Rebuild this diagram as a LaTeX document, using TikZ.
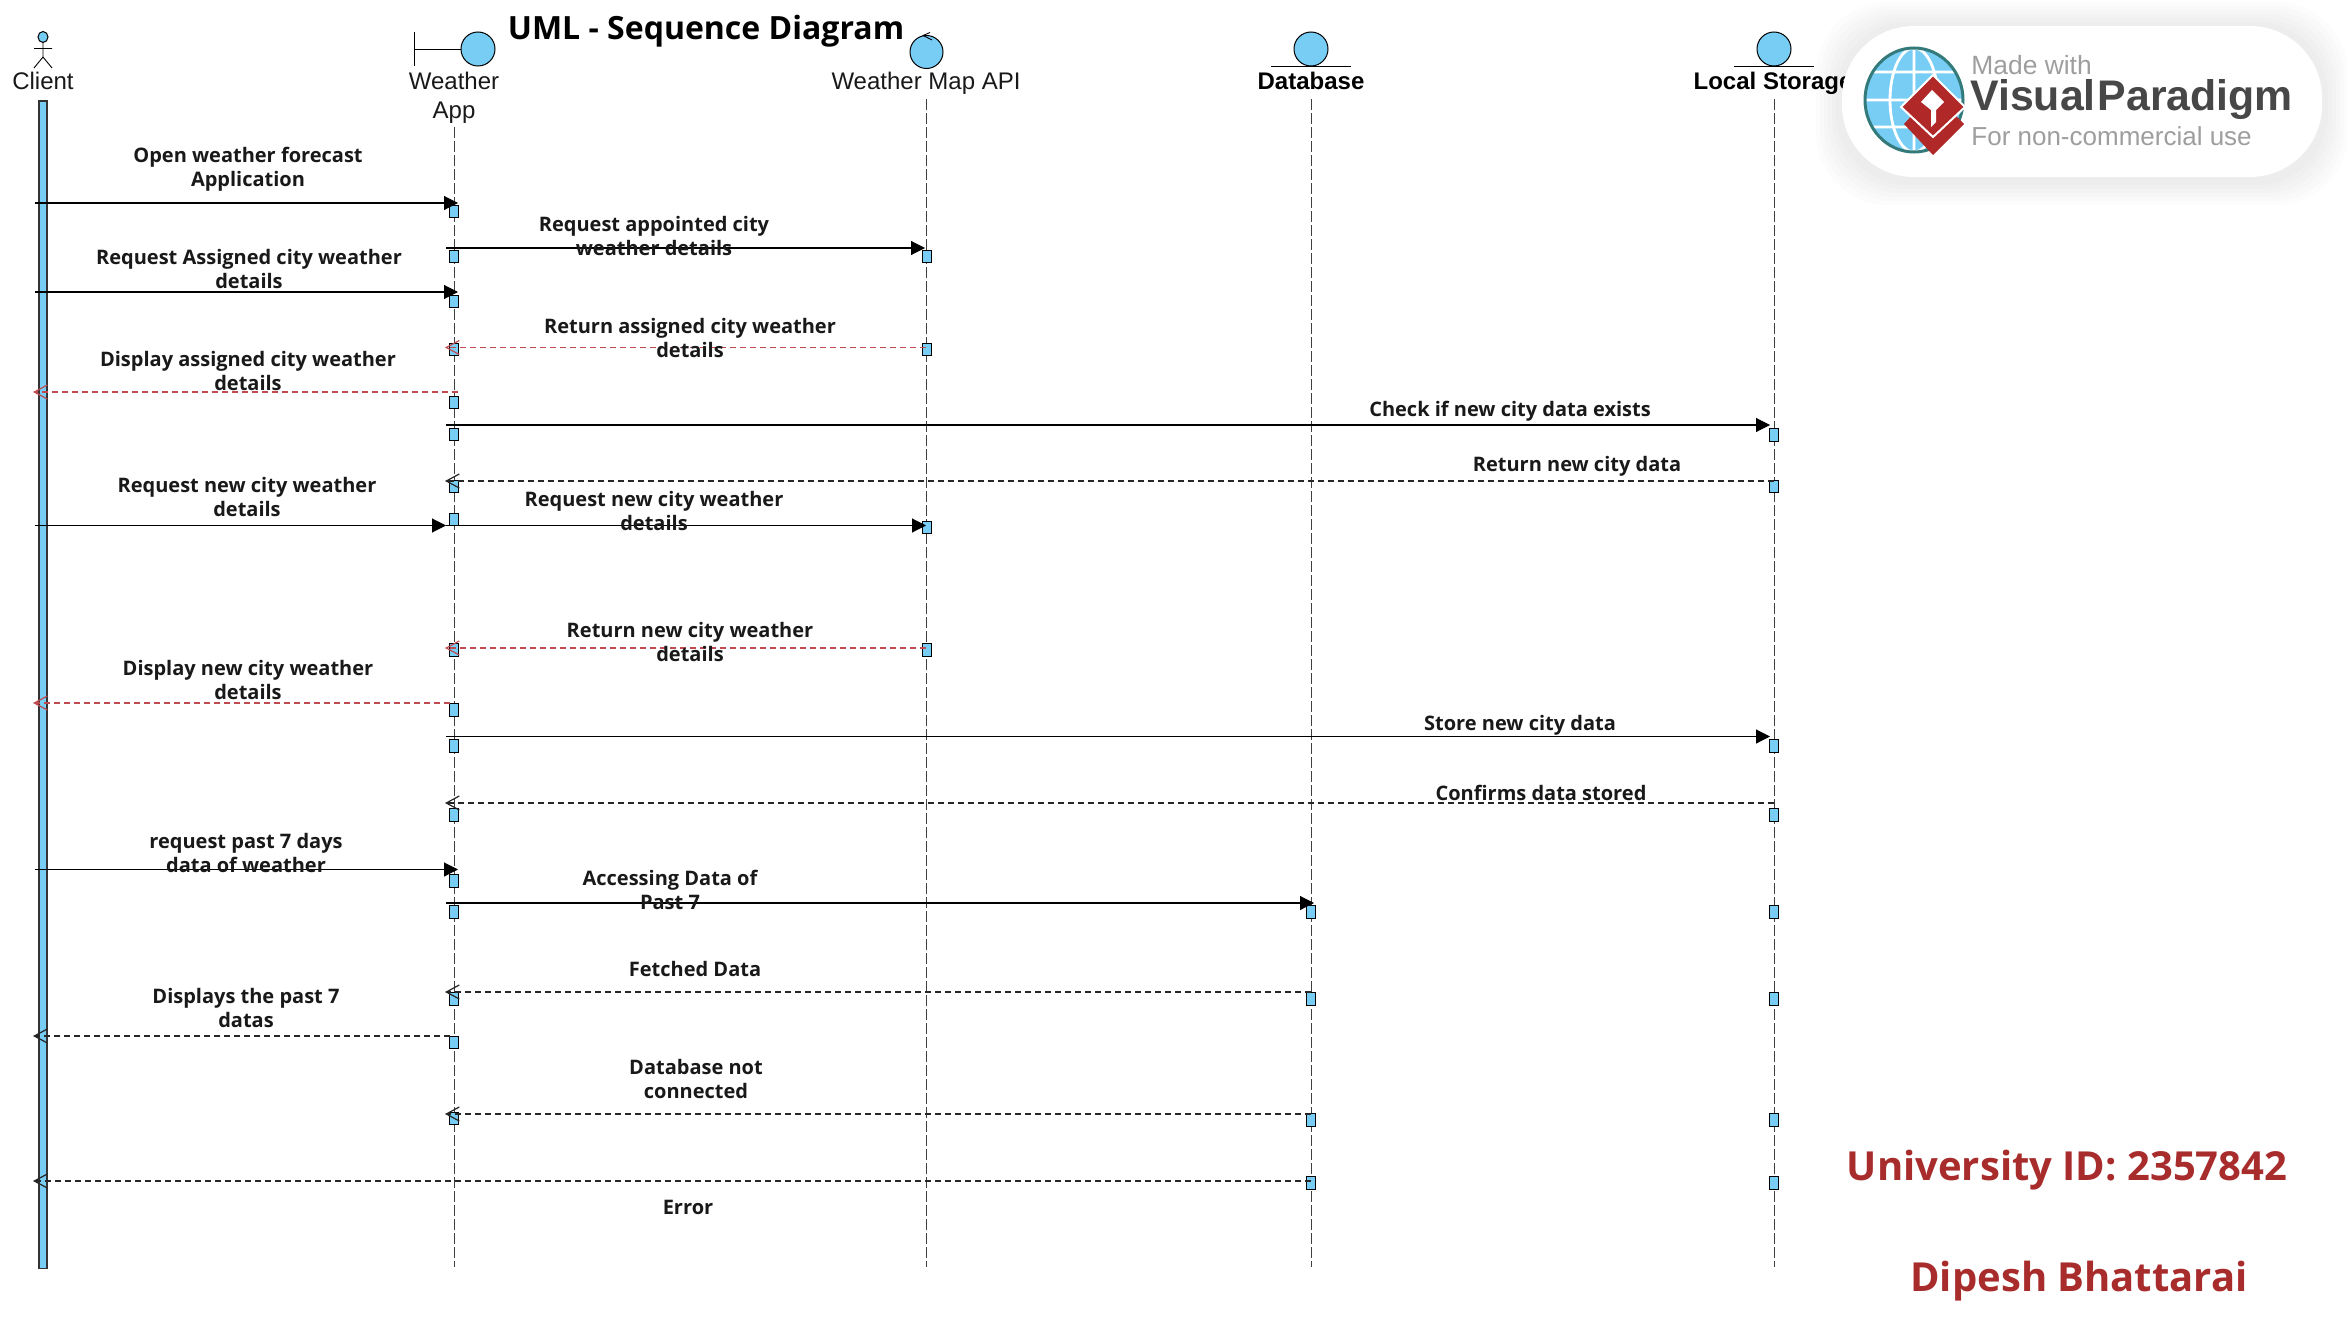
\documentclass[tikz,border=0pt]{standalone}
\usepackage{fontspec}
\setmainfont{Liberation Sans}
\newfontfamily\opensans{Open Sans}
\usetikzlibrary{arrows.meta}
\definecolor{lifefill}{HTML}{78CDF5}
\definecolor{redmsg}{HTML}{C04A50}
\definecolor{idred}{HTML}{A82C2C}
\tikzset{
  px/.style={x=0.5pt,y=-0.5pt},
  lifeline/.style={draw=black!75,line width=0.45pt,dash pattern=on 5.5pt off 1.5pt},
  acti/.style={draw=black,fill=lifefill,line width=0.5pt,minimum width=4.5pt,minimum height=6.2pt,inner sep=0pt,outer sep=0pt},
  glyph/.style={draw=black,fill=lifefill,line width=0.5pt},
  stick/.style={draw=black,line width=0.45pt},
  syncmsg/.style={draw=black,line width=0.55pt,-{Triangle[length=7pt,width=7pt]}},
  retmsg/.style={draw=black!85,line width=0.6pt,dash pattern=on 2.8pt off 2.2pt,-{Straight Barb[length=6.5pt,width=7pt,line width=0.6pt]}},
  redret/.style={draw=redmsg,line width=0.6pt,dash pattern=on 2.8pt off 2.2pt,-{Straight Barb[length=6.5pt,width=7pt,line width=0.6pt]}},
  msglabel/.style={font=\opensans\bfseries\fontsize{10}{12}\selectfont,align=center,inner sep=0pt,text=black!90},
  headlabel/.style={font=\fontsize{12}{14.4}\selectfont,align=center,inner sep=0pt,text=black!90},
  headbold/.style={font=\bfseries\fontsize{12}{14.4}\selectfont,align=center,inner sep=0pt},
  titletext/.style={font=\opensans\bfseries\fontsize{16}{20}\selectfont,inner sep=0pt},
  idtext/.style={font=\opensans\bfseries\fontsize{20}{24}\selectfont,inner sep=0pt,text=idred},
}
\begin{document}
\begin{tikzpicture}[px]
\useasboundingbox (0,0) rectangle (2346,1327);
\fill[white] (0,0) rectangle (2346,1327);

% lifelines
\coordinate (appT) at (454,127); \coordinate (appB) at (454,1267);
\coordinate (apiT) at (926.5,99); \coordinate (apiB) at (926.5,1267);
\coordinate (dbT) at (1311,99); \coordinate (dbB) at (1311,1267);
\coordinate (lsT) at (1774,99); \coordinate (lsB) at (1774,1267);
\draw[lifeline] (appT) -- (appB);
\draw[lifeline] (apiT) -- (apiB);
\draw[lifeline] (dbT) -- (dbB);
\draw[lifeline] (lsT) -- (lsB);
\node[draw=black!80,fill=lifefill,line width=0.7pt,minimum width=4pt,minimum height=583.5pt,inner sep=0pt,anchor=north] (clientbar) at (43,100.5) {};

% activations
\foreach \n/\x/\y in {
 a1/454/211.5,a2/454/256.5,a3/454/301.5,a4/454/349.5,a5/454/402.5,a6/454/434.5,a7/454/486.5,a8/454/519.5,
 a9/454/650,a10/454/710,a11/454/746,a12/454/815,a13/454/881,a14/454/912,a15/454/999,a16/454/1042.5,a17/454/1118.5,
 b1/926.5/256.5,b2/926.5/349.5,b3/926.5/527.5,b4/926.5/650,
 d1/1311/912,d2/1311/999,d3/1311/1120,d4/1311/1183,
 l1/1774/435,l2/1774/486.5,l3/1774/746,l4/1774/815,l5/1774/912,l6/1774/999,l7/1774/1120,l8/1774/1183}
 {\node[acti] (\n) at (\x,\y) {};}

% messages
\foreach \n/\xa/\xb/\y/\sty in {
 1/35/458/203/syncmsg,
 2/446/925/248/syncmsg,
 3/35/458/292/syncmsg,
 4/926/445/347.5/redret,
 5/458/33/392/redret,
 6/446/1770/425/syncmsg,
 7/1774/445/481/retmsg,
 8/35/446/525.5/syncmsg,
 9/446/926/525.5/syncmsg,
 10/926/445/648/redret,
 11/450/33/703/redret,
 12/446/1770/736.5/syncmsg,
 13/1774/445/803/retmsg,
 14/35/458/869.5/syncmsg,
 15/446/1314/903/syncmsg,
 16/1311/445/992/retmsg,
 17/450/33/1036/retmsg,
 18/1311/445/1114/retmsg,
 19/1311/33/1181/retmsg}
 {\coordinate (m\n s) at (\xa,\y); \coordinate (m\n e) at (\xb,\y);
  \draw[\sty] (m\n s) -- (m\n e);}

% client actor
\draw[glyph] (43,37) ellipse (5 and 5.5);
\draw[stick] (43,42.5) -- (43,57) (34,48.5) -- (52,48.5) (34,68) -- (43,57) -- (52,68);
% boundary
\draw[stick] (414.5,32) -- (414.5,66) (414.5,49) -- (461,49);
\draw[glyph] (478,49) ellipse (17 and 17);
% control
\draw[glyph] (926.5,52) ellipse (16.5 and 16.5);
\draw[stick] (930,32.5) -- (923,35.5) -- (932,40);
% entities
\draw[glyph] (1311,49) ellipse (17 and 17);
\draw[stick] (1271,66) -- (1351,66);
\draw[glyph] (1774,49) ellipse (17 and 17);
\draw[stick] (1734,66) -- (1814,66);

% heads
\node[headlabel] (hClient) at (43,81) {Client};
\node[headlabel] (hWeather) at (454,81) {Weather};
\node[headlabel] (hApp) at (454,113) {App};
\node[headlabel] (hApi) at (926,83) {Weather Map API};
\node[headbold] (hDb) at (1311,81) {Database};
\node[headbold] (hLs) at (1773,83) {Local Storage};
\node[titletext] (title) at (706,31) {UML - Sequence Diagram};

% message labels
\foreach \n/\x/\y/\t in {
 t1/248/169/{Open weather forecast\\Application},
 t2/654/236/{Request appointed city\\weather details},
 t3/249/269/{Request Assigned city weather\\details},
 t4/690/338/{Return assigned city weather\\details},
 t5/248/371/{Display assigned city weather\\details},
 t6/1510/411/{Check if new city data exists},
 t7/1577/466/{Return new city data},
 t8/247/497/{Request new city weather\\details},
 t9/654/511/{Request new city weather\\details},
 t10/690/642/{Return new city weather\\details},
 t11/248/680/{Display new city weather\\details},
 t12/1520/725/{Store new city data},
 t13/1541/793/{Confirms data stored},
 t14/246/853/{request past 7 days\\data of weather},
 t15/670/890/{Accessing Data of\\Past 7},
 t16/695/969/{Fetched Data},
 t17/246/1008/{Displays the past 7\\datas},
 t18/696/1079/{Database not\\connected},
 t19/688/1207/{Error}}
 {\node[msglabel] (\n) at (\x,\y) {\t};}

% footer
\node[idtext] (uid) at (2067,1170) {University ID: 2357842};
\node[idtext] (who) at (2079,1281) {Dipesh Bhattarai};

% watermark
\foreach \g in {26,22,18,14,10,6}
  \fill[black,opacity=0.012,rounded corners=36pt] (1842-\g,26-\g+2) rectangle (2322+\g,177+\g+2);
\fill[white,rounded corners=36pt] (1842,26) rectangle (2322,177);
\begin{scope}
 \clip (1914,100) ellipse (49 and 52);
 \fill[lifefill] (1865,48) rectangle (1963,152);
 \draw[white,line width=1.4pt] (1914,100) ellipse (24 and 52) (1914,48) -- (1914,152)
   (1865,72) -- (1963,72) (1865,100) -- (1963,100) (1865,127) -- (1963,127);
\end{scope}
\draw[draw=teal!70!black!80,line width=1.5pt] (1914,100) ellipse (49 and 52);
\fill[idred!90!red] (1904,124) -- (1933,92) -- (1964,124) -- (1933,155) -- cycle;
\draw[white,line width=1pt,fill=idred!90!red] (1901,107) -- (1933,75) -- (1965,107) -- (1933,137) -- cycle;
\fill[white] (1921,102) -- (1932,90) -- (1944,102) -- (1936,110) -- (1936,122) -- (1931,127) -- (1931,110) -- cycle;
\node[anchor=west,inner sep=0pt,text=black!38,font=\fontsize{13.2}{15}\selectfont] (vp1) at (1971,65) {Made with};
\node[anchor=west,inner sep=0pt,text=black!72,font=\bfseries\fontsize{21.4}{27}\selectfont] (vp2) at (1970,100) {Visual\hspace{1pt}Paradigm};
\node[anchor=west,inner sep=0pt,text=black!38,font=\fontsize{13}{14}\selectfont] (vp3) at (1971,136) {For non-commercial use};
\end{tikzpicture}
\end{document}
